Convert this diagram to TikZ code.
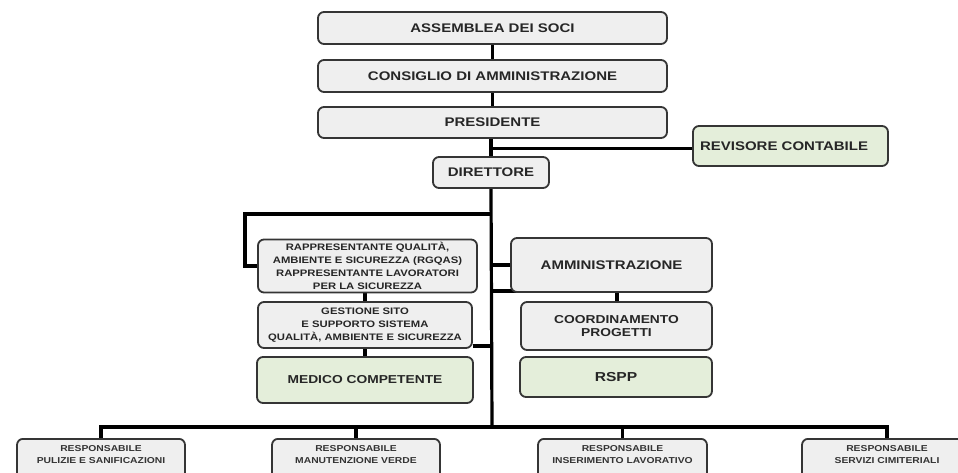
\documentclass[tikz,border=0pt]{standalone}
\usepackage{fontspec}
\setmainfont{Liberation Sans}[FakeStretch=1.2]
\usetikzlibrary{backgrounds}
\definecolor{boxgrey}{HTML}{EFEFEF}
\definecolor{boxgreen}{HTML}{E4EEDA}
\definecolor{edge}{HTML}{353535}
\tikzset{
  box/.style={draw=edge, line width=1.8pt, rounded corners=6pt, fill=boxgrey,
    align=center, inner sep=2pt, text=black!85, font=\bfseries\fontsize{12.5}{14}\selectfont},
  gbox/.style={box, fill=boxgreen},
  small/.style={font=\bfseries\fontsize{9.4}{12.8}\selectfont},
  tiny/.style={font=\bfseries\fontsize{8.6}{12}\selectfont, text=black!80},
  conn/.style={line width=3.2pt, black},
}
\begin{document}
\begin{tikzpicture}[x=1pt,y=-1pt]
\useasboundingbox (0,0) rectangle (958,473);
% top chain
\node[box, minimum width=349, minimum height=32] (soci) at (492.5,28) {ASSEMBLEA DEI SOCI};
\node[box, minimum width=349, minimum height=32] (cda) at (492.5,76) {CONSIGLIO DI AMMINISTRAZIONE};
\node[box, minimum width=349, minimum height=31] (pres) at (492.5,122.5) {PRESIDENTE};
\node[box, minimum width=116, minimum height=31] (dir) at (491,172.5) {DIRETTORE};
\node[gbox, minimum width=195, minimum height=40, text width=181, align=left, inner xsep=7pt] (rev) at (790.5,146) {REVISORE CONTABILE};
% left column
\node[box, small, minimum width=219, minimum height=53] (rap) at (367.5,266) {RAPPRESENTANTE QUALITÀ,\\AMBIENTE E SICUREZZA (RGQAS)\\RAPPRESENTANTE LAVORATORI\\PER LA SICUREZZA};
\node[box, small, minimum width=214, minimum height=46] (ges) at (365,325) {GESTIONE SITO\\E SUPPORTO SISTEMA\\QUALITÀ, AMBIENTE E SICUREZZA};
\node[gbox, minimum width=216, minimum height=46, font=\bfseries\fontsize{11.5}{14}\selectfont] (med) at (365,380) {MEDICO COMPETENTE};
% right column
\node[box, minimum width=201, minimum height=54] (amm) at (611.5,265) {AMMINISTRAZIONE};
\node[box, minimum width=191, minimum height=48, font=\bfseries\fontsize{11.5}{13.5}\selectfont] (coo) at (616.5,326) {COORDINAMENTO\\PROGETTI};
\node[gbox, minimum width=192, minimum height=40, font=\bfseries\fontsize{13}{14}\selectfont] (rspp) at (616,377) {RSPP};
% bottom row
\node[box, minimum width=168, minimum height=50, anchor=north] (r1) at (101,438) {};
\node[box, minimum width=168, minimum height=50, anchor=north] (r2) at (356,438) {};
\node[box, minimum width=169, minimum height=50, anchor=north] (r3) at (622.5,438) {};
\node[box, minimum width=170, minimum height=50, anchor=north] (r4) at (887,438) {};
\node[tiny, align=center, anchor=north, inner sep=0pt] (t1) at ([yshift=-7pt]r1.north) {RESPONSABILE\\PULIZIE E SANIFICAZIONI};
\node[tiny, align=center, anchor=north, inner sep=0pt] (t2) at ([yshift=-7pt]r2.north) {RESPONSABILE\\MANUTENZIONE VERDE};
\node[tiny, align=center, anchor=north, inner sep=0pt] (t3) at ([yshift=-7pt]r3.north) {RESPONSABILE\\INSERIMENTO LAVORATIVO};
\node[tiny, align=center, anchor=north, inner sep=0pt] (t4) at ([yshift=-7pt]r4.north) {RESPONSABILE\\SERVIZI CIMITERIALI};
% connector coordinates
\coordinate (bus) at (492,427);
\coordinate (tl) at (492,214);
\coordinate (lcorner) at (245,214);
\coordinate (tg) at (492,346);
\coordinate (ta) at (492,265);
\coordinate (tb) at (492,291);
\coordinate (ab) at (517,291);
\begin{scope}[on background layer]
\draw[conn] (soci.south) -- (cda.north);
\draw[conn] (cda.south) -- (pres.north);
\draw[conn] (pres.south -| dir.north) -- (dir.north);
\draw[conn] (pres.south -| dir.north) ++(0,10) coordinate (tr) -- (tr -| rev.west);
\draw[conn] (dir.south) -- (bus);
\draw[conn] (tl) -- (lcorner) |- (rap.west);
\draw[conn] (ges.north) -- (ges.north |- rap.south);
\draw[conn] (ges.south) -- (med.north);
\draw[conn] (ges.east |- tg) -- (tg);
\draw[conn] (ta) -- (amm.west |- ta);
\draw[conn] (tb) -- (ab);
\draw[conn] (coo.north -| 617,0) -- (amm.south -| 617,0);
\draw[conn] (r1.north) -- (r1.north |- bus) -- (r4.north |- bus) -- (r4.north);
\draw[conn] (r2.north) -- (r2.north |- bus);
\draw[conn] (r3.north) -- (r3.north |- bus);
\end{scope}
\end{tikzpicture}
\end{document}
